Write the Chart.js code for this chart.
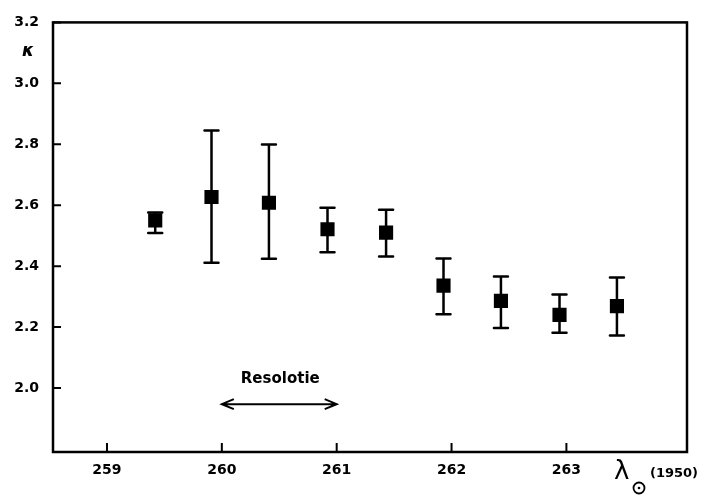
<!DOCTYPE html>
<html>
<head>
<meta charset="utf-8">
<script src="https://cdn.jsdelivr.net/npm/chart.js@4"></script>
<style>
  body { margin: 0; background: #fff; }
</style>
</head>
<body>
<canvas id="chart" width="724" height="495"></canvas>
<script>
// Data
const xVals = [259.42, 259.91, 260.41, 260.92, 261.43, 261.93, 262.43, 262.94, 263.44];
const yVals = [2.55, 2.627, 2.608, 2.521, 2.51, 2.336, 2.286, 2.24, 2.269];
const errHigh = [2.576, 2.845, 2.799, 2.592, 2.585, 2.425, 2.366, 2.307, 2.363];
const errLow = [2.509, 2.411, 2.424, 2.446, 2.432, 2.242, 2.197, 2.181, 2.172];
const xTicks = [259, 260, 261, 262, 263];
const yTicks = [2.0, 2.2, 2.4, 2.6, 2.8, 3.0, 3.2];
const resolution = [260, 261]; // arrow span

const decorations = {
  id: "decorations",
  beforeDatasetsDraw(chart) {
    const { ctx, scales: { x, y } } = chart;
    ctx.save();
    ctx.strokeStyle = "#000";
    ctx.lineWidth = 2.5;
    ctx.lineCap = "round";
    // error bars
    xVals.forEach((v, i) => {
      const px = x.getPixelForValue(v);
      const top = y.getPixelForValue(errHigh[i]);
      const bot = y.getPixelForValue(errLow[i]);
      ctx.beginPath();
      ctx.moveTo(px, top);
      ctx.lineTo(px, bot);
      ctx.moveTo(px - 7, top);
      ctx.lineTo(px + 7, top);
      ctx.moveTo(px - 7, bot);
      ctx.lineTo(px + 7, bot);
      ctx.stroke();
    });
    ctx.restore();
  },
  afterDraw(chart) {
    const { ctx, chartArea: a, scales: { x, y } } = chart;
    ctx.save();
    ctx.strokeStyle = "#000";
    ctx.fillStyle = "#000";
    ctx.lineWidth = 2.5;
    // frame
    ctx.strokeRect(a.left, a.top, a.right - a.left, a.bottom - a.top);
    // inward tick marks
    ctx.lineWidth = 2;
    ctx.beginPath();
    yTicks.forEach((v) => {
      const py = y.getPixelForValue(v);
      ctx.moveTo(a.left, py);
      ctx.lineTo(a.left + 8, py);
    });
    xTicks.forEach((v) => {
      const px = x.getPixelForValue(v);
      ctx.moveTo(px, a.bottom);
      ctx.lineTo(px, a.bottom - 9);
    });
    ctx.stroke();

    // resolution arrow
    const x0 = x.getPixelForValue(resolution[0]);
    const x1 = x.getPixelForValue(resolution[1]);
    const ya = y.getPixelForValue(1.947);
    ctx.beginPath();
    ctx.moveTo(x0, ya);
    ctx.lineTo(x1, ya);
    ctx.moveTo(x0 + 12, ya - 5);
    ctx.lineTo(x0, ya);
    ctx.lineTo(x0 + 12, ya + 5);
    ctx.moveTo(x1 - 12, ya - 5);
    ctx.lineTo(x1, ya);
    ctx.lineTo(x1 - 12, ya + 5);
    ctx.stroke();

    ctx.textAlign = "center";
    ctx.textBaseline = "middle";
    ctx.font = "bold 15px 'DejaVu Sans'";
    ctx.fillText("Resolotie", (x0 + x1) / 2 + 1, y.getPixelForValue(2.03));

    // y axis symbol
    ctx.font = "bold italic 17px 'DejaVu Sans'";
    ctx.fillText("κ", a.left - 25, a.top + 29);

    // x axis title
    ctx.textAlign = "left";
    ctx.font = "26px 'DejaVu Sans'";
    ctx.fillText("λ", a.right - 73, a.bottom + 20);
    ctx.lineWidth = 1.8;
    ctx.beginPath();
    ctx.arc(a.right - 48, a.bottom + 36, 5.5, 0, Math.PI * 2);
    ctx.stroke();
    ctx.beginPath();
    ctx.arc(a.right - 48, a.bottom + 36, 1.3, 0, Math.PI * 2);
    ctx.fill();
    ctx.font = "bold 13px 'DejaVu Sans'";
    ctx.fillText("(1950)", a.right - 37, a.bottom + 22);
    ctx.restore();
  },
};

new Chart(document.getElementById("chart"), {
  type: "scatter",
  data: {
    datasets: [
      {
        data: xVals.map((v, i) => ({ x: v, y: yVals[i] })),
        pointStyle: "rect",
        pointRadius: 10,
        backgroundColor: "#000",
        borderColor: "#000",
        borderWidth: 0,
      },
    ],
  },
  options: {
    responsive: false,
    animation: false,
    layout: { padding: { top: 12, right: 37, left: 0, bottom: 0 } },
    plugins: { legend: { display: false }, tooltip: { enabled: false } },
    scales: {
      x: {
        type: "linear",
        min: 258.53,
        max: 264.05,
        afterBuildTicks: (s) => {
          s.ticks = xTicks.map((v) => ({ value: v }));
        },
        afterFit: (s) => {
          s.height = 43;
        },
        grid: { display: false, drawTicks: false },
        border: { display: false },
        ticks: {
          color: "#000",
          padding: 10,
          maxRotation: 0,
          font: { family: "DejaVu Sans", size: 14, weight: "bold" },
          callback: (v) => String(v),
        },
      },
      y: {
        min: 1.79,
        max: 3.2,
        afterBuildTicks: (s) => {
          s.ticks = yTicks.map((v) => ({ value: v }));
        },
        afterFit: (s) => {
          s.width = 53;
        },
        grid: { display: false, drawTicks: false },
        border: { display: false },
        ticks: {
          color: "#000",
          padding: 14,
          font: { family: "DejaVu Sans", size: 14, weight: "bold" },
          callback: (v) => v.toFixed(1),
        },
      },
    },
  },
  plugins: [decorations],
});
</script>
</body>
</html>
